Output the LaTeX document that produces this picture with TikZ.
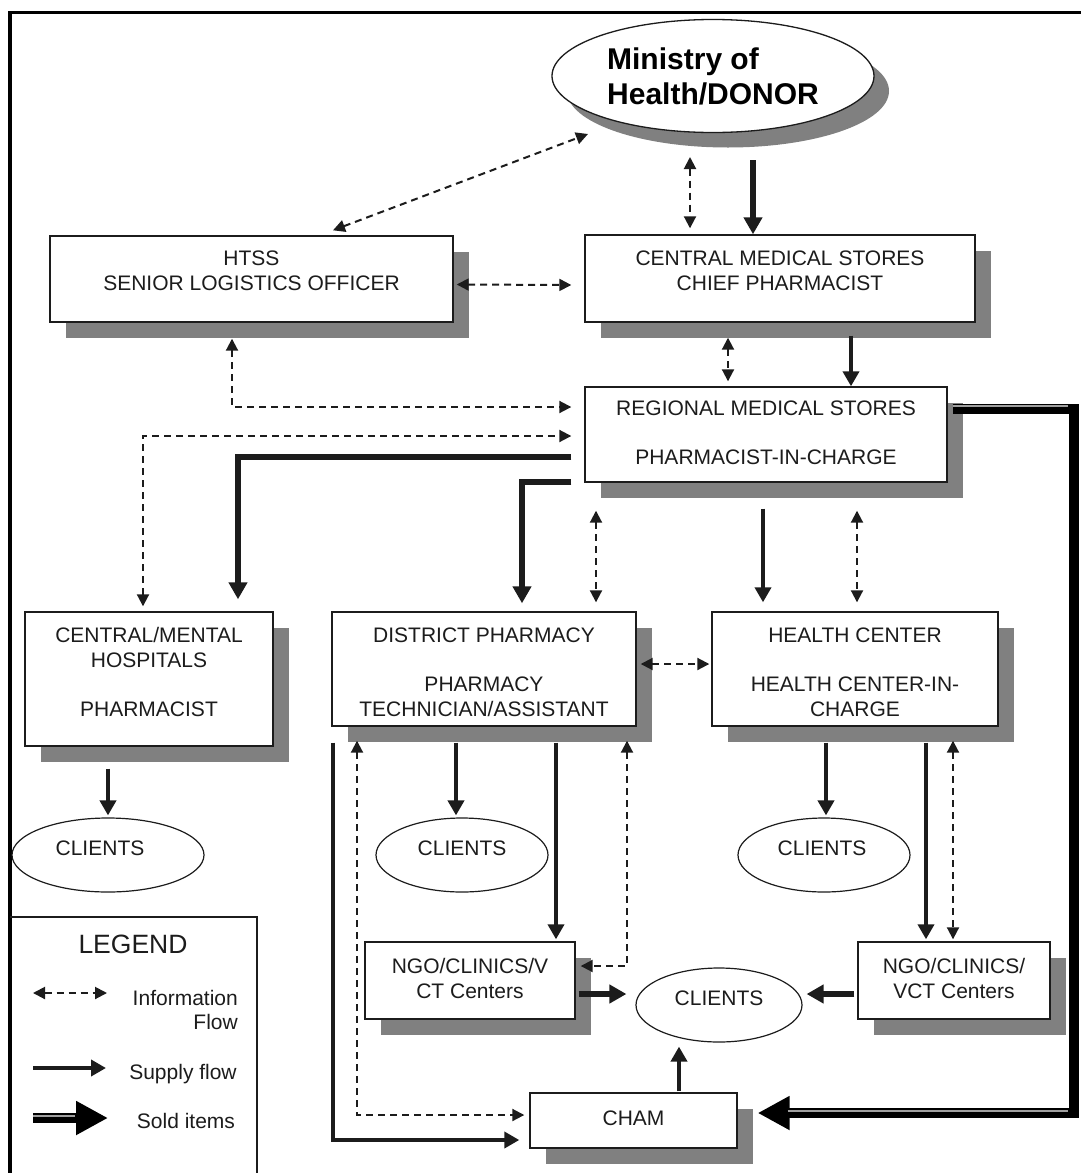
\documentclass[tikz,border=0pt]{standalone}
\usepackage{fontspec}
\setmainfont{Liberation Sans}
\usetikzlibrary{arrows.meta,shapes.geometric,shadows,calc}
\definecolor{shadowgray}{HTML}{808080}
\definecolor{ink}{HTML}{1C1C1C}
\definecolor{stripegray}{HTML}{A0A0A0}
\newcommand\boxfont{\fontsize{21}{24.5}\selectfont}
\newcommand\bxt[4]{\parbox[c][#2pt][t]{#1pt}{\centering\boxfont\vspace*{#3pt}\strut#4}}
\newcommand\clt[1]{\smash{\makebox[0pt]{\kern#1pt CLIENTS}}}
\begin{document}
\begin{tikzpicture}[x=1pt,y=-1pt,
  box/.style={draw=ink,line width=1.4pt,fill=white,inner sep=0pt,text=ink,
    drop shadow={shadow xshift=16pt,shadow yshift=-16pt,fill=shadowgray,opacity=1}},
  cli/.style={ellipse,draw=ink,line width=1.2pt,fill=white,inner sep=0pt,text=ink,font=\boxfont},
  info/.style={draw=ink,line width=2pt,dash pattern=on 7pt off 5pt,
    arrows={Triangle[width=12pt,length=12pt]-Triangle[width=12pt,length=12pt]}},
  sup/.style={draw=ink,line width=4.2pt,arrows={-Triangle[width=16pt,length=15pt]}},
  supthick/.style={draw=ink,line width=5.5pt,arrows={-Triangle[width=18pt,length=17pt]}},
  sold/.style={draw=black,line width=10pt,arrows={-Triangle[width=32pt,length=32pt]}},
  stripe/.style={draw=stripegray,line width=2pt},
  legtext/.style={text=ink,font=\boxfont,inner sep=0pt},
]
\useasboundingbox (0,0) rectangle (1080,1173);
\fill[white] (0,0) rectangle (1080,1173);
% frame
\draw[black,line width=3.5pt] (10,1180) -- (10,12.5) -- (1085,12.5);

% boxes
\node[box] (htss) at (251.5,279) {\bxt{403}{86}{12.35}{HTSS\\SENIOR LOGISTICS OFFICER}};
\node[box] (cms) at (780,278.5) {\bxt{390}{87}{13.35}{CENTRAL MEDICAL STORES\\CHIEF PHARMACIST}};
\node[box] (reg) at (766,434.5) {\bxt{362}{95}{11.35}{REGIONAL MEDICAL STORES\\[24.5pt]PHARMACIST-IN-CHARGE}};
\node[box] (cmh) at (149,679) {\bxt{248}{134}{13.35}{CENTRAL/MENTAL\\HOSPITALS\\[24.5pt]PHARMACIST}};
\node[box] (dist) at (484,669) {\bxt{304}{114}{13.35}{DISTRICT PHARMACY\\[24.5pt]PHARMACY\\TECHNICIAN/ASSISTANT}};
\node[box] (hc) at (855,669) {\bxt{286}{114}{13.35}{HEALTH CENTER\\[24.5pt]HEALTH CENTER-IN-\\CHARGE}};
\node[box] (ngo1) at (470,980.5) {\bxt{210}{77}{14.35}{NGO/CLINICS/V\\CT Centers}};
\node[box] (ngo2) at (954,980.5) {\bxt{192}{77}{14.35}{NGO/CLINICS/\\VCT Centers}};
\node[box] (cham) at (633.5,1120.5) {\bxt{207}{55}{15.35}{CHAM}};

% ellipses
\node[ellipse,draw=ink,line width=1.3pt,fill=white,inner sep=0pt,minimum width=322pt,minimum height=113pt,
  text=black,align=left,font=\bfseries\fontsize{30}{35}\selectfont,
  drop shadow={shadow xshift=15pt,shadow yshift=-15pt,fill=shadowgray,opacity=1}] (moh) at (713,76) {Ministry of\\Health/DONOR};
\node[cli,minimum width=192pt,minimum height=74pt] (cl1) at (108,855) {\clt{-16}};
\node[cli,minimum width=172pt,minimum height=74pt] (cl2) at (462,855) {\clt{0}};
\node[cli,minimum width=172pt,minimum height=74pt] (cl3) at (824,855) {\clt{-4}};
\node[cli,minimum width=166pt,minimum height=74pt] (cl4) at (719,1005) {\clt{0}};

% connectors
\draw[info] ($(htss.north)+(81.5,-5)$) -- ($(moh.center)+(-125,58)$);
\draw[info] ($(moh.center)+(-23,81)$) -- ($(cms.north)+(-90,-6)$);
\draw[supthick] ($(moh.center)+(40,84)$) -- ($(cms.north)+(-27,0)$);
\draw[info] ($(htss.east)+(3,5.5)$) -- ($(cms.west)+(-13,6.5)$);
\draw[info] ($(cms.south)+(-52,15)$) -- ($(reg.north)+(-38,-5)$);
\draw[sup] ($(cms.south)+(71,13)$) -- ($(reg.north)+(85,0)$);
\draw[info] ($(htss.south)+(-19.5,16)$) |- ($(reg.west)+(-13,-27.5)$);
\draw[info] ($(cmh.north)+(-6,-5)$) |- ($(reg.west)+(-13,1.5)$);
\draw[supthick] ($(reg.west)+(-13,22.5)$) -| ($(cmh.north)+(89,-12)$);
\draw[supthick] ($(reg.west)+(-13,47.5)$) -| ($(dist.north)+(38,-8)$);
\draw[info] ($(reg.south)+(-170,28)$) -- ($(dist.north)+(112,-9)$);
\draw[sup] ($(reg.south)+(-3,26)$) -- ($(hc.north)+(-92,-9)$);
\draw[info] ($(reg.south)+(91,28)$) -- ($(hc.north)+(2,-9)$);
\draw[sold] ($(reg.east)+(5,-26)$) -- ++(121,0) |- ($(cham.east)+(20,-7.5)$);
\draw[stripe] ($(reg.east)+(5,-28.5)$) -- ++(115,0);
\draw[stripe] ($(cham.east)+(50,-10)$) -- ++(280,0);
\draw[sup] ($(dist.south)+(-28,16)$) -- ($(cl2.north)+(-6,-2)$);
\draw[sup] ($(dist.south)+(72,16)$) -- ($(ngo1.north)+(86,-2)$);
\draw[info] ($(dist.south)+(143,14)$) |- ($(ngo1.east)+(5,-14.5)$);
\draw[sup,line width=4.5pt] ($(dist.south)+(-151,16)$) |- ($(cham.west)+(-10,19.5)$);
\draw[info] ($(dist.south)+(-127,14)$) |- ($(cham.west)+(-5,-5.5)$);
\draw[sup] ($(hc.south)+(-29,16)$) -- ($(cl3.north)+(2,-2)$);
\draw[sup] ($(hc.south)+(71,16)$) -- ($(ngo2.north)+(-28,-2)$);
\draw[info] ($(hc.south)+(98,14)$) -- ($(ngo2.north)+(-1,-2)$);
\draw[info] ($(dist.east)+(4,-5)$) -- ($(hc.west)+(-2,-5)$);
\draw[sup] ($(cmh.south)+(-41,22)$) -- ($(cl1.north)+(0,-2)$);
\draw[supthick] ($(ngo1.east)+(3,13.5)$) -- ($(cl4.west)+(-9,-11)$);
\draw[supthick] ($(ngo2.west)+(-3,13.5)$) -- ($(cl4.east)+(4,-11)$);
\draw[sup] ($(cham.north)+(45.5,-1)$) -- ($(cl4.south)+(-40,4)$);

% legend
\draw[ink,line width=1.5pt] (10,917) -- (257,917) -- (257,1180);
\node[legtext,font=\fontsize{26.5}{30}\selectfont,anchor=base] (legt) at (133,953.5) {LEGEND};
\coordinate (li1) at (33,993);
\coordinate (li2) at (107,993);
\draw[info] (li1) -- (li2);
\node[legtext,align=right,anchor=east] (lgi) at (238,1010) {Information\\Flow};
\coordinate (ls1) at (33,1068);
\coordinate (ls2) at (106,1068);
\draw[sup] (ls1) -- (ls2);
\node[legtext,anchor=base] (lgs) at (183,1079) {Supply flow};
\coordinate (ld1) at (33,1118);
\coordinate (ld2) at (108,1118);
\draw[sold] (ld1) -- (ld2);
\draw[stripe] ($(ld1)+(0,-2.5)$) -- ++(42,0);
\node[legtext,anchor=base] (lgd) at (186,1128) {Sold items};
\end{tikzpicture}
\end{document}
